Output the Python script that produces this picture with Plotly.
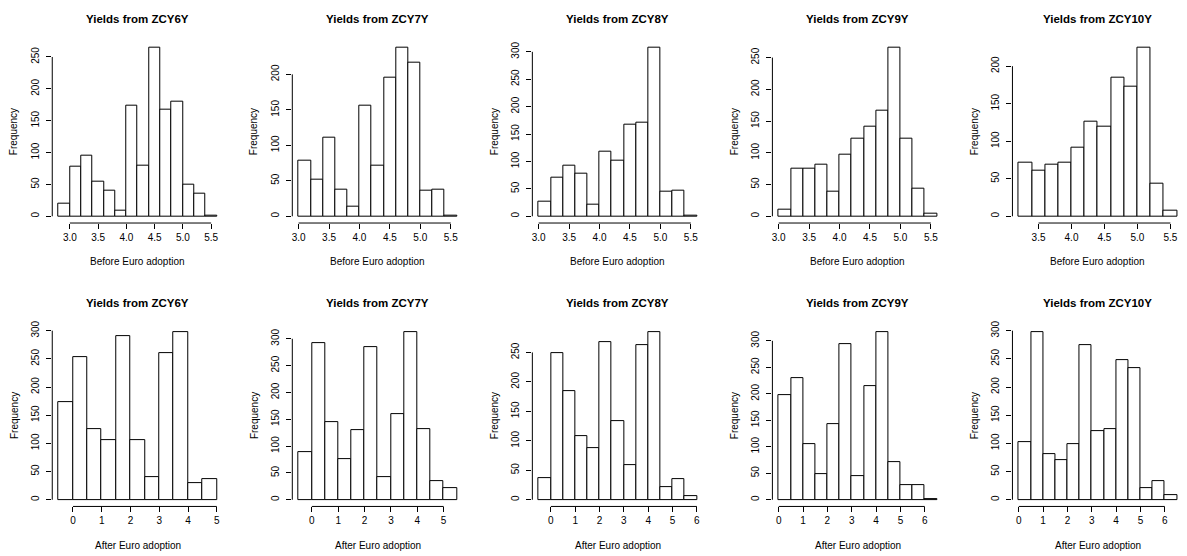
import math
import plotly.graph_objects as go

# Histogram counts of zero-coupon yields, before / after euro adoption
maturities = ["ZCY6Y", "ZCY7Y", "ZCY8Y", "ZCY9Y", "ZCY10Y"]

before_start = [2.8, 3.0, 3.0, 3.0, 3.2]
before_binwidth = 0.2
before_counts = [
    [19, 78, 95, 55, 40, 8, 173, 80, 265, 168, 180, 50, 36, 1],
    [78, 52, 111, 38, 13, 156, 71, 195, 238, 217, 36, 38, 1],
    [27, 71, 92, 78, 21, 117, 102, 167, 170, 308, 44, 47, 2],
    [10, 75, 75, 81, 39, 97, 122, 141, 167, 266, 122, 44, 4],
    [71, 61, 69, 71, 92, 126, 120, 185, 173, 225, 44, 8],
]

after_start = [-0.5, -0.5, -0.5, 0.0, 0.0]
after_binwidth = 0.5
after_counts = [
    [174, 254, 125, 105, 291, 105, 40, 261, 298, 29, 36],
    [88, 292, 144, 76, 130, 284, 43, 160, 313, 131, 35, 21],
    [36, 249, 184, 108, 88, 267, 133, 59, 262, 285, 22, 35, 7],
    [197, 230, 105, 49, 142, 294, 44, 215, 317, 71, 27, 27, 2],
    [102, 298, 81, 71, 98, 275, 122, 125, 247, 233, 20, 33, 8],
]

row_xlabels = ["Before Euro adoption", "After Euro adoption"]
row_xdtick = [0.5, 1.0]
row_xformat = [".1f", "d"]
ydtick = 50

W, H = 1187, 556
FONT = "Arial, Liberation Sans, sans-serif"

# plot-region geometry (pixels)
col_left0, col_step, plot_w = 51.3, 240.25, 171.0
row_top = [36.0, 323.0]
row_bottom = [220.0, 506.0]

fig = go.Figure()
layout = dict(
    width=W, height=H, margin=dict(l=0, r=0, t=0, b=0),
    paper_bgcolor="white", plot_bgcolor="white",
    showlegend=False, bargap=0,
)
shapes, annotations = [], []

panels = []
for c in range(5):
    panels.append((0, c, before_start[c], before_binwidth, before_counts[c]))
for c in range(5):
    panels.append((1, c, after_start[c], after_binwidth, after_counts[c]))

for i, (r, c, start, bw, counts) in enumerate(panels):
    n = i + 1
    suffix = "" if n == 1 else str(n)
    xa, ya = f"x{suffix}", f"y{suffix}"
    edges = [start + k * bw for k in range(len(counts) + 1)]
    centers = [(edges[k] + edges[k + 1]) / 2 for k in range(len(counts))]
    lo, hi = edges[0], edges[-1]
    ymax = max(counts)
    xr = [lo - 0.04 * (hi - lo), hi + 0.04 * (hi - lo)]
    yr = [-0.04 * ymax, 1.04 * ymax]

    fig.add_trace(go.Bar(
        x=centers, y=counts, width=[bw] * len(counts),
        marker=dict(color="white", line=dict(color="black", width=1)),
        xaxis=xa, yaxis=ya, hoverinfo="x+y",
    ))

    left = col_left0 + c * col_step
    right = left + plot_w
    top, bottom = row_top[r], row_bottom[r]
    xd = [left / W, right / W]
    yd = [1 - bottom / H, 1 - top / H]

    dx = row_xdtick[r]
    layout[f"xaxis{suffix}"] = dict(
        domain=xd, range=xr, anchor=ya, tickmode="linear", tick0=0, dtick=dx,
        tickformat=row_xformat[r], ticks="outside", ticklen=5, tickwidth=1,
        tickcolor="black", showline=False, showgrid=False, zeroline=False,
        tickfont=dict(family=FONT, size=10, color="black"), fixedrange=True,
    )
    layout[f"yaxis{suffix}"] = dict(
        domain=yd, range=yr, anchor=xa, tickmode="linear", tick0=0, dtick=ydtick,
        ticks="outside", ticklen=5, tickwidth=1, tickcolor="black", tickangle=-90,
        ticklabelstandoff=3,
        showline=False, showgrid=False, zeroline=False,
        tickfont=dict(family=FONT, size=10, color="black"), fixedrange=True,
    )

    # axis lines span only first to last tick
    x_first = math.ceil(xr[0] / dx - 1e-9) * dx
    x_last = math.floor(xr[1] / dx + 1e-9) * dx
    y_last = math.floor(yr[1] / ydtick + 1e-9) * ydtick
    shapes.append(dict(type="line", xref=xa, yref=f"{ya} domain",
                       x0=x_first, x1=x_last, y0=0, y1=0,
                       line=dict(color="black", width=1)))
    shapes.append(dict(type="line", xref=f"{xa} domain", yref=ya,
                       x0=0, x1=0, y0=0, y1=y_last,
                       line=dict(color="black", width=1)))

    cx = (left + right) / 2 / W
    annotations.append(dict(
        text=f"<b>Yields from {maturities[c]}</b>", xref="paper", yref="paper",
        x=cx, y=1 - (top - 22) / H, xanchor="center", yanchor="middle",
        showarrow=False, font=dict(family=FONT, size=11.5, color="black"),
    ))
    annotations.append(dict(
        text=row_xlabels[r], xref="paper", yref="paper",
        x=cx, y=1 - (bottom + 39) / H, xanchor="center", yanchor="middle",
        showarrow=False, font=dict(family=FONT, size=10, color="black"),
    ))
    annotations.append(dict(
        text="Frequency", xref="paper", yref="paper", textangle=-90,
        x=(left - 38) / W, y=1 - (top + bottom) / 2 / H,
        xanchor="center", yanchor="middle",
        showarrow=False, font=dict(family=FONT, size=10, color="black"),
    ))

layout["shapes"] = shapes
layout["annotations"] = annotations
fig.update_layout(**layout)
fig.write_html("out.html")
